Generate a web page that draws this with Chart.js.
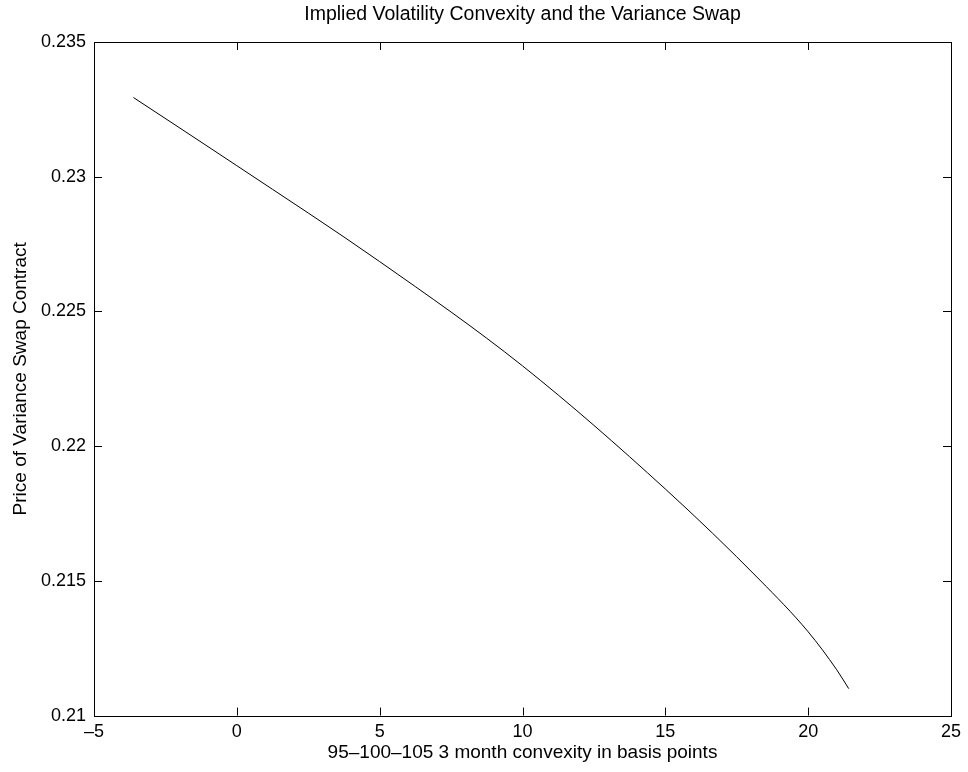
<!DOCTYPE html>
<html>
<head>
  <script src="https://cdn.jsdelivr.net/npm/chart.js@4.4.0/dist/chart.umd.min.js"></script>
  <title>Implied Volatility Convexity and the Variance Swap</title>
  <style>
    body { margin: 0; background: #fff; }
    canvas { display: block; }
  </style>
</head>
<body>
  <canvas id="swapChart" width="968" height="772"></canvas>
  <script>
    // values
    const convexity = [-3.62, 0, 5, 10, 15, 18.31, 20, 21.0, 21.42];
    const swapPrice = [0.23294, 0.23041, 0.22685, 0.22298, 0.21841, 0.21503, 0.21311, 0.2117, 0.2110];

    // axis ticks
    const xTicks = [-5, 0, 5, 10, 15, 20, 25];
    const xTickLabels = ["\u20135", "0", "5", "10", "15", "20", "25"];
    const yTicks = [0.21, 0.215, 0.22, 0.225, 0.23, 0.235];
    const yTickLabels = ["0.21", "0.215", "0.22", "0.225", "0.23", "0.235"];

    const chartTitle = "Implied Volatility Convexity and the Variance Swap";

    const FONT = "'Liberation Sans', Arial, Helvetica, sans-serif";

    // matlab style box with ticks pointing inward, title centred over the axes
    const boxTicks = {
      id: "boxTicks",
      afterDraw(chart) {
        const ctx = chart.ctx;
        const a = chart.chartArea;
        const xs = chart.scales.x, ys = chart.scales.y;
        const len = 8;
        ctx.save();
        ctx.strokeStyle = "#000";
        ctx.lineWidth = 1;
        ctx.beginPath();
        xTicks.forEach(v => {
          const px = Math.round(xs.getPixelForValue(v)) + 0.5;
          ctx.moveTo(px, a.bottom); ctx.lineTo(px, a.bottom - len);
          ctx.moveTo(px, a.top); ctx.lineTo(px, a.top + len);
        });
        yTicks.forEach(v => {
          const py = Math.round(ys.getPixelForValue(v)) + 0.5;
          ctx.moveTo(a.left, py); ctx.lineTo(a.left + len, py);
          ctx.moveTo(a.right, py); ctx.lineTo(a.right - len, py);
        });
        ctx.stroke();
        ctx.strokeRect(Math.round(a.left) + 0.5, Math.round(a.top) + 0.5,
          Math.round(a.right - a.left), Math.round(a.bottom - a.top));

        ctx.fillStyle = "#000";
        ctx.font = "19.5px " + FONT;
        ctx.textAlign = "center";
        ctx.textBaseline = "middle";
        ctx.fillText(chartTitle, (a.left + a.right) / 2, 15);
        ctx.restore();
      }
    };

    const whiteBg = {
      id: "whiteBg",
      beforeDraw(chart) {
        const ctx = chart.ctx;
        ctx.save();
        ctx.fillStyle = "#fff";
        ctx.fillRect(0, 0, chart.width, chart.height);
        ctx.restore();
      }
    };

    const ctx = document.getElementById("swapChart").getContext("2d");
    const chart = new Chart(ctx, {
      type: "line",
      data: {
        datasets: [{
          data: convexity.map((x, i) => ({ x: x, y: swapPrice[i] })),
          borderColor: "#000",
          borderWidth: 1,
          pointRadius: 0,
          fill: false,
          cubicInterpolationMode: "monotone"
        }]
      },
      options: {
        responsive: false,
        animation: false,
        devicePixelRatio: 1,
        layout: { padding: { left: 0, right: 17, top: 42, bottom: 0 } },
        plugins: {
          legend: { display: false },
          tooltip: { enabled: false },
          title: { display: false }
        },
        scales: {
          x: {
            type: "linear",
            min: -5,
            max: 25,
            afterBuildTicks: s => { s.ticks = xTicks.map(v => ({ value: v })); },
            afterFit: s => { s.height = 56.4; },
            grid: { display: false, drawTicks: false, tickLength: 0 },
            border: { display: false },
            ticks: {
              color: "#000",
              padding: 5.5,
              maxRotation: 0,
              font: { family: FONT, size: 18 },
              callback: v => xTickLabels[xTicks.indexOf(v)]
            },
            title: {
              display: true,
              text: "95\u2013100\u2013105 3 month convexity in basis points",
              color: "#000",
              font: { family: FONT, size: 19 },
              padding: { top: 0, bottom: 7.6 }
            }
          },
          y: {
            type: "linear",
            min: 0.21,
            max: 0.235,
            afterBuildTicks: s => { s.ticks = yTicks.map(v => ({ value: v })); },
            afterFit: s => { s.width = 94; },
            grid: { display: false, drawTicks: false, tickLength: 0 },
            border: { display: false },
            ticks: {
              color: "#000",
              padding: 8,
              font: { family: FONT, size: 18 },
              callback: v => yTickLabels[yTicks.findIndex(t => Math.abs(t - v) < 1e-9)]
            },
            title: {
              display: true,
              text: "Price of Variance Swap Contract",
              color: "#000",
              font: { family: FONT, size: 19 },
              padding: { top: 9, bottom: 0 }
            }
          }
        }
      },
      plugins: [whiteBg, boxTicks]
    });
  </script>
</body>
</html>
